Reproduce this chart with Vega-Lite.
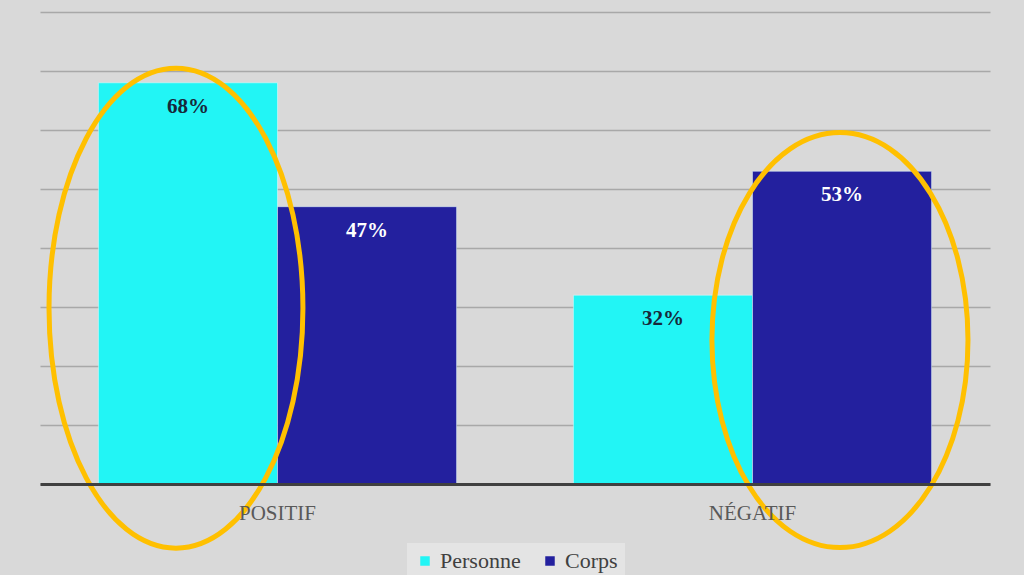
{
  "$schema": "https://vega.github.io/schema/vega-lite/v6.json",
  "width": 950,
  "height": 472,
  "autosize": {"type": "none"},
  "padding": {"left": 40, "top": 12, "right": 34, "bottom": 91},
  "background": "#d9d9d9",
  "config": {
    "view": {"stroke": null},
    "font": "Liberation Serif",
    "style": {"guide-label": {"font": "Liberation Serif"}},
    "legend": {"labelFont": "Liberation Serif", "labelFontSize": 22, "labelColor": "#404040"}
  },
  "data": {
    "values": [
      {"category": "POSITIF", "series": "Personne", "value": 0.68},
      {"category": "POSITIF", "series": "Corps", "value": 0.47},
      {"category": "NÉGATIF", "series": "Personne", "value": 0.32},
      {"category": "NÉGATIF", "series": "Corps", "value": 0.53}
    ]
  },
  "encoding": {
    "x": {
      "field": "category",
      "type": "nominal",
      "sort": ["POSITIF", "NÉGATIF"],
      "scale": {"paddingInner": 0.246, "paddingOuter": 0.123},
      "axis": {
        "title": null,
        "labelAngle": 0,
        "labelFont": "Liberation Serif",
        "labelFontSize": 21,
        "labelColor": "#595959",
        "labelPadding": 18,
        "ticks": false,
        "domainColor": "#404040",
        "domainWidth": 3,
        "zindex": 1
      }
    },
    "xOffset": {"field": "series", "type": "nominal", "sort": ["Personne", "Corps"]},
    "y": {
      "field": "value",
      "type": "quantitative",
      "scale": {"domain": [0, 0.8]},
      "axis": {
        "title": null,
        "labels": false,
        "ticks": false,
        "domain": false,
        "values": [0, 0.1, 0.2, 0.3, 0.4, 0.5, 0.6, 0.7, 0.8],
        "gridColor": "#a8a8a8",
        "gridWidth": 1.5
      }
    }
  },
  "layer": [
    {
      "mark": {"type": "bar", "stroke": "#e8ffff", "strokeWidth": 0.8, "strokeOpacity": 0.6},
      "encoding": {
        "color": {
          "field": "series",
          "type": "nominal",
          "sort": ["Personne", "Corps"],
          "scale": {"domain": ["Personne", "Corps"], "range": ["#22F5F5", "#23209E"]},
          "legend": {
            "title": null,
            "orient": "none",
            "legendX": 367,
            "legendY": 531,
            "direction": "horizontal",
            "symbolType": "square",
            "symbolSize": 90,
            "symbolStrokeWidth": 0,
            "labelFont": "Liberation Serif",
            "labelFontSize": 22,
            "labelColor": "#404040",
            "labelOffset": 4,
            "fillColor": "#e4e4e4",
            "padding": 7,
            "columnPadding": 18,
            "encode": {"labels": {"update": {"font": {"value": "Liberation Serif"}}}}
          }
        }
      }
    },
    {
      "mark": {"type": "text", "dy": 24, "fontWeight": "bold", "fontSize": 21, "font": "Liberation Serif", "baseline": "middle"},
      "encoding": {
        "text": {"field": "value", "type": "quantitative", "format": ".0%"},
        "color": {
          "condition": {"test": "datum.series === 'Personne'", "value": "#17283a"},
          "value": "#ffffff"
        }
      }
    },
    {
      "transform": [{"filter": "datum.category === 'POSITIF' && datum.series === 'Personne'"}],
      "mark": {
        "type": "point",
        "shape": "M -0.05 -1 A 0.529 1 0 1 1 -0.05 1 A 0.529 1 0 1 1 -0.05 -1 Z",
        "size": 230400,
        "filled": false,
        "stroke": "#FFC000",
        "strokeWidth": 5,
        "opacity": 1
      },
      "encoding": {"y": {"datum": 0.298, "type": "quantitative"}}
    },
    {
      "transform": [{"filter": "datum.category === 'NÉGATIF' && datum.series === 'Corps'"}],
      "mark": {
        "type": "point",
        "shape": "M -0.01 -1 A 0.617 1 0 1 1 -0.01 1 A 0.617 1 0 1 1 -0.01 -1 Z",
        "size": 172225,
        "filled": false,
        "stroke": "#FFC000",
        "strokeWidth": 5,
        "opacity": 1
      },
      "encoding": {"y": {"datum": 0.244, "type": "quantitative"}}
    }
  ]
}
